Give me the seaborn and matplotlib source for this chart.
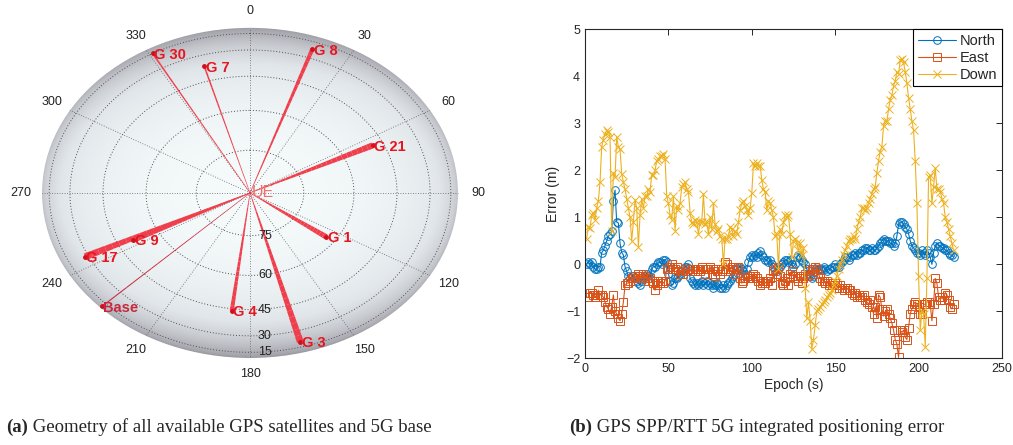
import numpy as np
import seaborn as sns
import matplotlib
matplotlib.use("Agg")
import matplotlib.pyplot as plt
from matplotlib.collections import LineCollection
from matplotlib.colors import LinearSegmentedColormap
from matplotlib.patches import Circle

# ---- (a) sky plot: satellites seen from the UE ----
sat_names = ["G 30", "G 7", "G 8", "G 21", "G 1", "G 3", "G 4", "Base", "G 17", "G 9"]
sat_azimuth = [331, 344, 19, 64, 126, 165, 187, 226, 244, 243]
sat_elevation = [15, 37, 23, 49, 63, 21, 44, 8, 28, 51]
sat_weight = [1.2, 1.2, 3.0, 4.5, 4.0, 5.0, 3.0, 0.8, 5.0, 4.0]
azimuth_ticks = [0, 30, 60, 90, 120, 150, 180, 210, 240, 270, 300, 330]
elevation_ticks = [75, 60, 45, 30, 15]

# ---- (b) positioning error per epoch ----
north = [0.0, 0.05, 0.0, 0.05, -0.05, -0.1, -0.1, -0.05, -0.05, 0.25,
         0.3, 0.4, 0.5, 0.6, 0.65, 0.7, 1.35, 1.58, 0.9, 0.88,
         0.45, 0.25, 0.2, -0.05, -0.15, -0.25, -0.3, -0.25, -0.25, -0.3,
         -0.35, -0.4, -0.45, -0.35, -0.3, -0.25, -0.2, -0.25, -0.3, -0.1,
         -0.05, -0.05, 0.0, 0.05, 0.05, 0.0, 0.1, 0.1, 0.05, -0.2,
         -0.35, -0.45, -0.4, -0.3, -0.3, -0.25, -0.2, -0.15, -0.1, -0.05,
         -0.05, 0.0, -0.3, -0.35, -0.4, -0.45, -0.4, -0.45, -0.4, -0.35,
         -0.45, -0.4, -0.35, -0.45, -0.4, -0.45, -0.5, -0.45, -0.4, -0.45,
         -0.5, -0.5, -0.45, -0.5, -0.45, -0.4, -0.35, -0.3, -0.25, -0.2,
         -0.1, -0.05, -0.05, -0.1, -0.15, -0.2, -0.1, 0.05, 0.15, 0.2,
         0.15, 0.2, 0.15, 0.25, 0.28, 0.2, 0.15, 0.1, 0.1, 0.05,
         0.1, 0.0, -0.05, -0.1, -0.15, -0.1, -0.05, 0.0, 0.05, 0.1,
         0.1, 0.05, 0.1, 0.0, -0.05, 0.0, 0.15, 0.2, 0.15, 0.1,
         0.05, 0.0, -0.1, -0.2, -0.25, -0.3, -0.25, -0.1, -0.05, -0.1,
         -0.1, -0.1, -0.05, -0.1, -0.15, -0.1, -0.1, -0.05, -0.05, 0.0,
         -0.05, -0.05, 0.0, 0.05, 0.1, 0.15, 0.15, 0.1, 0.15, 0.2,
         0.2, 0.25, 0.2, 0.25, 0.25, 0.3, 0.3, 0.35, 0.35, 0.3,
         0.3, 0.35, 0.3, 0.3, 0.35, 0.4, 0.45, 0.5, 0.55, 0.5,
         0.5, 0.5, 0.45, 0.45, 0.4, 0.45, 0.6, 0.85, 0.9, 0.9,
         0.85, 0.8, 0.75, 0.65, 0.5, 0.4, 0.35, 0.3, 0.25, 0.25,
         0.2, 0.3, 0.25, 0.2, 0.3, 0.25, 0.15, 0.0, 0.25, 0.4,
         0.45, 0.4, 0.4, 0.35, 0.35, 0.3, 0.3, 0.25, 0.2, 0.2,
         0.15]
east = [-0.7, -0.7, -0.6, -0.6, -0.65, -0.7, -0.65, -0.55, -0.65, -0.65,
        -0.7, -0.8, -0.9, -0.95, -1.05, -0.9, -0.65, -1.0, -1.05, -1.15,
        -1.2, -1.05, -0.8, -0.45, -0.4, -0.4, -0.35, -0.3, -0.3, -0.25,
        -0.3, -0.2, -0.25, -0.3, -0.2, -0.25, -0.3, -0.35, -0.3, -0.35,
        -0.4, -0.55, -0.45, -0.35, -0.4, -0.35, -0.4, -0.35, -0.1, -0.1,
        -0.05, 0.0, -0.1, -0.1, -0.05, -0.15, -0.2, -0.15, -0.2, -0.1,
        -0.15, -0.1, -0.15, -0.1, -0.1, -0.15, -0.1, -0.1, -0.15, -0.05,
        -0.1, -0.2, -0.1, -0.1, -0.05, -0.2, -0.1, -0.25, -0.15, -0.1,
        -0.2, -0.15, -0.1, 0.05, 0.0, -0.1, -0.15, -0.05, -0.1, -0.2,
        -0.1, -0.05, -0.3, -0.4, -0.35, -0.3, -0.25, -0.3, -0.25, -0.3,
        -0.2, -0.25, -0.3, -0.35, -0.45, -0.4, -0.35, -0.4, -0.35, -0.35,
        -0.3, -0.45, -0.15, -0.1, -0.2, -0.05, -0.25, -0.4, -0.45, -0.35,
        -0.3, -0.45, -0.2, -0.15, -0.25, -0.25, -0.3, -0.35, -0.25, -0.4,
        -0.3, -0.2, -0.25, -0.15, -0.2, -0.1, -0.15, -0.05, -0.1, -0.2,
        -0.3, -0.35, -0.35, -0.4, -0.35, -0.45, -0.4, -0.45, -0.45, -0.4,
        -0.45, -0.5, -0.45, -0.5, -0.55, -0.5, -0.5, -0.55, -0.55, -0.6,
        -0.65, -0.6, -0.7, -0.65, -0.7, -0.7, -0.65, -0.75, -0.8, -0.85,
        -0.75, -0.9, -1.05, -0.9, -1.15, -0.65, -0.7, -0.95, -1.1, -1.0,
        -0.95, -1.05, -1.15, -1.25, -1.4, -1.6, -1.7, -1.98, -1.4, -1.45,
        -1.4, -1.55, -1.6, -1.35, -1.05, -0.95, -0.85, -0.8, -0.85, -0.9,
        -1.05, -1.05, -0.85, -0.85, -0.8, -0.8, -0.85, -1.2, -0.85, -0.3,
        -0.4, -0.7, -0.75, -0.7, -0.75, -0.6, -0.65, -0.75, -0.9, -0.95,
        -0.85]
down = [0.55, 0.8, 0.78, 1.05, 1.1, 0.95, 1.2, 1.35, 1.75, 2.5,
        2.65, 2.78, 2.85, 2.82, 2.72, 0.7, 1.95, 1.85, 2.72, 2.5,
        2.45, 1.93, 1.75, 1.6, 1.4, 1.2, 1.0, 0.5, 0.9, 1.38,
        1.2, 0.38, 1.05, 1.4, 1.2, 1.45, 1.45, 1.6, 1.55, 1.9,
        1.9, 2.0, 2.2, 2.25, 2.3, 2.3, 2.35, 2.25, 1.45, 1.3,
        1.05, 0.95, 1.45, 0.72, 1.25, 1.15, 1.3, 1.65, 1.7, 1.75,
        1.6, 1.55, 1.1, 0.9, 0.85, 0.95, 0.9, 0.65, 0.9, 0.9,
        1.5, 0.85, 0.9, 0.65, 1.0, 0.75, 1.3, 0.85, 0.7, 0.75,
        0.6, 0.55, 0.0, 0.55, 0.55, 0.6, 0.8, 0.75, 0.6, 0.7,
        0.65, 0.9, 1.15, 1.3, 1.35, 1.25, 1.15, 1.05, 1.2, 1.52,
        2.15, 2.1, 2.15, 2.1, 2.1, 1.8, 1.6, 1.55, 1.15, 1.35,
        1.3, 1.15, 1.0, 0.6, 0.65, -0.1, 0.75, 0.65, 0.9, 1.05,
        1.0, 1.05, 0.65, 0.15, 0.5, 0.55, 0.45, 0.3, 0.45, 0.2,
        0.35, -0.5, -1.15, -0.8, -1.2, -1.8, -1.6, -1.3, -1.0, -0.95,
        -0.9, -0.85, -0.8, -0.75, -0.7, -0.65, -0.6, -0.55, -0.45, -0.35,
        -0.25, -0.1, 0.0, 0.1, 0.2, 0.3, 0.4, 0.5, 0.55, 0.55,
        0.6, 0.55, 0.75, 0.9, 1.0, 1.2, 1.2, 1.15, 1.2, 1.3,
        1.4, 1.5, 1.6, 1.65, 1.95, 2.2, 2.4, 2.5, 2.95, 3.05,
        3.05, 3.3, 3.5, 3.6, 3.8, 3.9, 4.1, 4.05, 4.35, 4.37,
        4.3, 4.1, 3.85, 3.55, 3.3, 3.05, 2.85, 2.2, 1.3, -0.25,
        -1.4, -1.0, -1.05, -1.75, -0.3, 1.85, 1.9, 1.3, 1.65, 2.05,
        1.6, 1.6, 1.55, 1.4, 1.3, 1.0, 0.9, 0.75, 0.6, 0.45,
        0.3]
series_names = ["North", "East", "Down"]
series_colors = ["#0072BD", "#D95319", "#EDB120"]
series_markers = ["o", "s", "x"]

sns.set_style("white")
plt.rcParams["font.family"] = ["Liberation Sans", "DejaVu Sans"]

fig = plt.figure(figsize=(10.13, 4.45), dpi=100)

# ---------------- left panel ----------------
ax1 = fig.add_axes([0.0005, 0.14, 0.4926, 0.853])

# shaded hemisphere
g = np.linspace(-1, 1, 500)
X, Y = np.meshgrid(g, g)
R2 = np.clip(X ** 2 + Y ** 2, 1e-9, 1)
edge = 1 - np.sqrt(1 - R2)
shade = edge ** 1.1 * (0.6 + 0.4 * Y ** 2 / R2)
cmap = LinearSegmentedColormap.from_list(
    "sphere", ["#f5fafb", "#e1e6ea", "#b4b5bc", "#939399"])
im = ax1.imshow(shade, extent=[-1, 1, -1, 1], origin="lower", cmap=cmap,
                vmin=0, vmax=1, interpolation="bilinear", zorder=0)
im.set_clip_path(Circle((0, 0), 1, transform=ax1.transData))
ax1.set_aspect("auto")
ax1.set_xlim(-1.2, 1.2)
ax1.set_ylim(-1.15, 1.15)
ax1.axis("off")

# grid (orthographic: r = cos(elevation))
t = np.linspace(0, 2 * np.pi, 361)
for el in elevation_ticks:
    r = np.cos(np.radians(el))
    ax1.plot(r * np.sin(t), r * np.cos(t), ls=(0, (1, 2)), color="#505050",
             lw=0.7, zorder=1)
for az in azimuth_ticks:
    a = np.radians(az)
    ax1.plot([0, np.sin(a)], [0, np.cos(a)], ls=(0, (1, 2)), color="#606060",
             lw=0.6, zorder=1)
    ax1.text(1.1 * np.sin(a), 1.1 * np.cos(a), str(az), ha="center",
             va="center", fontsize=9, color="#222222")
for el in elevation_ticks:
    ax1.text(0.072, -np.cos(np.radians(el)), str(el), ha="center",
             va="center", fontsize=9, color="#222222", zorder=3)

# satellite rays, widening towards the satellite
for name, az, el, w in zip(sat_names, sat_azimuth, sat_elevation, sat_weight):
    a = np.radians(az)
    r = np.cos(np.radians(el))
    ex, ey = r * np.sin(a), r * np.cos(a)
    f = np.linspace(0, 1, 25)
    pts = np.column_stack([f * ex, f * ey])
    segs = np.stack([pts[:-1], pts[1:]], axis=1)
    widths = 0.4 + (w - 0.4) * (f[:-1] + f[1:]) / 2
    col = "#c8283c" if name == "Base" else "#ef3f4c"
    ax1.add_collection(LineCollection(segs, linewidths=widths, colors=col,
                                      capstyle="butt", zorder=2))
    ax1.plot(ex, ey, marker="o", ms=2.5, color="#d01020", zorder=4)
    ax1.annotate(name, (ex, ey), xytext=(1, -1), textcoords="offset points",
                 ha="left", va="center", fontsize=10.5, fontweight="bold",
                 color="#c8283c" if name == "Base" else "#e8141e", zorder=5)
ax1.annotate("UE", (0, 0), xytext=(1, 0), textcoords="offset points",
             ha="left", va="center", fontsize=11.5, color="#f07070", zorder=5)

# ---------------- right panel ----------------
ax2 = fig.add_axes([0.5775, 0.1948, 0.4116, 0.739])
for name, vals, col, mk in zip(series_names, [north, east, down],
                               series_colors, series_markers):
    epochs = np.arange(1, len(vals) + 1)
    sns.lineplot(x=epochs, y=vals, ax=ax2, color=col, marker=mk,
                 markersize=5.5, markerfacecolor="none", markeredgecolor=col,
                 markeredgewidth=0.7, linewidth=0.8, label=name, legend=False)

ax2.set_xlim(0, 250)
ax2.set_ylim(-2, 5)
ax2.set_xticks(range(0, 251, 50))
ax2.set_yticks(range(-2, 6))
ax2.set_xlabel("Epoch (s)", fontsize=10, color="#262626", labelpad=2)
ax2.set_ylabel("Error (m)", fontsize=10, color="#262626", labelpad=4)
ax2.tick_params(direction="in", length=4, width=0.7, labelsize=9,
                colors="#262626", top=True, right=True)
for s in ax2.spines.values():
    s.set_linewidth(0.8)
    s.set_color("#262626")
leg = ax2.legend(loc="upper right", fontsize=10.5, frameon=True, fancybox=False,
                 borderaxespad=0, handlelength=2.6, handletextpad=0.3,
                 labelspacing=0.2, borderpad=0.3)
leg.get_frame().set_edgecolor("black")
leg.get_frame().set_linewidth(0.8)
leg.get_frame().set_alpha(1)

# ---------------- captions ----------------
serif = ["Liberation Serif", "DejaVu Serif"]
captions = [("(a)", " Geometry of all available GPS satellites and 5G base", 6 / 1013),
            ("(b)", " GPS SPP/RTT 5G integrated positioning error", 569 / 1013)]
for tag, text, x in captions:
    t1 = fig.text(x, 0.04, tag, ha="left", va="center", fontsize=13.5,
                  fontweight="bold", family=serif)
    plt.annotate(text, xy=(1, 0.5), xycoords=t1, ha="left", va="center",
                 fontsize=13.5, family=serif, annotation_clip=False)

fig.savefig("out.png", dpi=100)
